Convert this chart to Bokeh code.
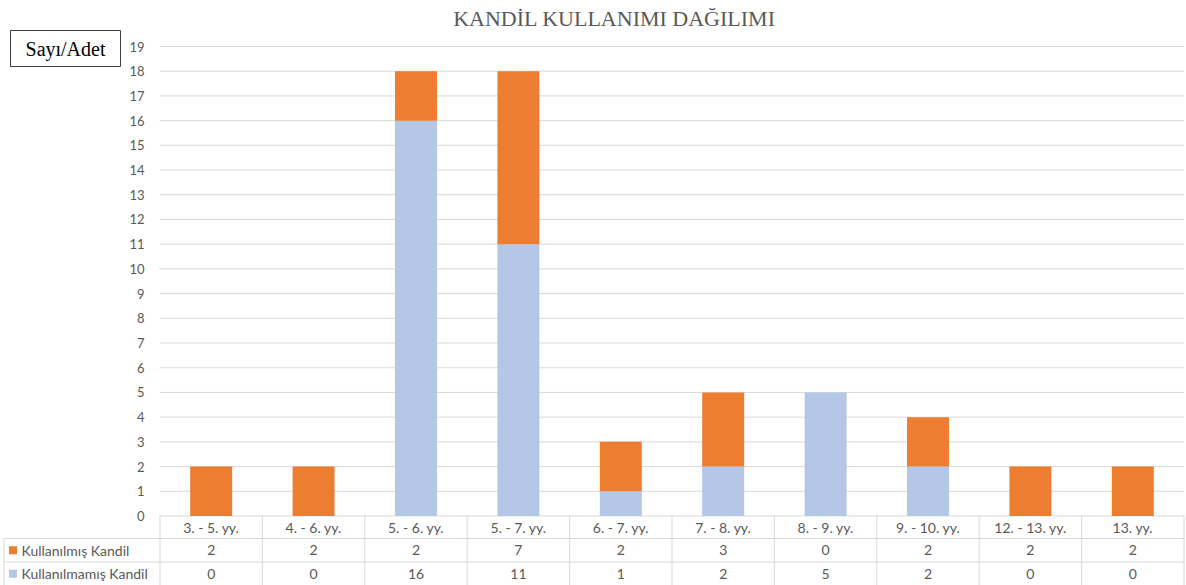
from bokeh.plotting import figure
from bokeh.models import Range1d, ColumnDataSource
from bokeh.core.properties import value
from bokeh.embed import file_html
from bokeh.resources import INLINE

categories = ["3. - 5. yy.", "4. - 6. yy.", "5. - 6. yy.", "5. - 7. yy.", "6. - 7. yy.",
              "7. - 8. yy.", "8. - 9. yy.", "9. - 10. yy.", "12. - 13. yy.", "13. yy."]
kullanilmis = [2, 2, 2, 7, 2, 3, 0, 2, 2, 2]
kullanilmamis = [0, 0, 16, 11, 1, 2, 5, 2, 0, 0]
series_names = ["Kullanılmış Kandil", "Kullanılmamış Kandil"]
y_ticks = list(range(0, 20))
title_text = "KANDİL KULLANIMI DAĞILIMI"
unit_text = "Sayı/Adet"

ORANGE = "#ED7D31"
BLUE = "#B4C7E7"
GRID = "#d9d9d9"
TXT = "#595959"
FONT = "Lato"
SERIF = "Liberation Serif"

n = len(categories)
xs = list(range(n))

# layout in figure pixels
W, H = 1186, 585
PLOT_L = 159.5        # plot area left
PLOT_R = 1183.5       # plot area right
PLOT_T = 46           # y = 19
PLOT_B = 515.5        # y = 0
ROW_LINES = [538, 561.5]
TABLE_LEFT = 3.5

ppx = (PLOT_R - PLOT_L) / n
ppy = (PLOT_B - PLOT_T) / 19.0
x0 = -0.5 - PLOT_L / ppx
x1 = x0 + W / ppx
y_top = 19 + PLOT_T / ppy
y_bot = y_top - H / ppy

def fx(px):
    return x0 + px / ppx

def fy(py):
    return y_top - py / ppy

p = figure(width=W, height=H, output_backend="svg", toolbar_location=None,
           x_range=Range1d(x0, x1), y_range=Range1d(y_bot, y_top),
           min_border=0)
p.outline_line_color = None
p.xaxis.visible = False
p.yaxis.visible = False
p.grid.grid_line_color = None

# gridlines
p.segment(x0=[-0.5] * len(y_ticks), y0=y_ticks, x1=[n - 0.5] * len(y_ticks), y1=y_ticks,
          line_color=GRID, line_width=1)
# y tick labels
p.text(x=[fx(144)] * len(y_ticks), y=y_ticks, text=[str(t) for t in y_ticks],
       text_align="right", text_baseline="middle", text_font=value(FONT),
       text_font_size="13px", text_color=TXT)

# bars
src = ColumnDataSource(dict(x=xs, used=kullanilmis, unused=kullanilmamis))
p.vbar_stack(["unused", "used"], x="x", width=0.41, fill_color=[BLUE, ORANGE],
             line_color=None, source=src)

# data table
r1 = fy(ROW_LINES[0])
r2 = fy(ROW_LINES[1])
r3 = fy(H)
left_edge = fx(TABLE_LEFT)
p.segment(x0=[left_edge, left_edge], y0=[r1, r2],
          x1=[n - 0.5] * 2, y1=[r1, r2], line_color=GRID, line_width=1)
vx = [i - 0.5 for i in range(n + 1)]
p.segment(x0=vx, y0=[0] * len(vx), x1=vx, y1=[r3] * len(vx), line_color=GRID, line_width=1)
p.segment(x0=[left_edge], y0=[r1], x1=[left_edge], y1=[r3], line_color=GRID, line_width=1)

p.text(x=xs, y=[r1 / 2] * n, text=categories, text_align="center", text_baseline="middle",
       text_font=value(FONT), text_font_size="14px", text_color=TXT)

row_a = (r1 + r2) / 2
row_b = (r2 + r3) / 2
tx, ty, tt = [], [], []
for i in range(n):
    tx += [i, i]
    ty += [row_a, row_b]
    tt += [str(kullanilmis[i]), str(kullanilmamis[i])]
p.text(x=tx, y=ty, text=tt, text_align="center", text_baseline="middle",
       text_font=value(FONT), text_font_size="14px", text_color=TXT)

p.scatter(x=[fx(12.5)] * 2, y=[row_a, row_b], marker="square", size=8,
          fill_color=[ORANGE, BLUE], line_color=None)
p.text(x=[fx(21)] * 2, y=[row_a, row_b], text=series_names,
       text_align="left", text_baseline="middle", text_font=value(FONT),
       text_font_size="14px", text_color=TXT)

# title
p.text(x=[fx(614)], y=[fy(18)], text=[title_text], text_align="center",
       text_baseline="middle", text_font=value(SERIF), text_font_size="22px",
       text_color=TXT)

# unit box
p.rect(x=[fx(65)], y=[fy(48)], width=110, height=36, width_units="screen",
       height_units="screen", fill_color="white", line_color="#404040", line_width=1)
p.text(x=[fx(65)], y=[fy(48)], text=[unit_text], text_align="center",
       text_baseline="middle", text_font=value(SERIF), text_font_size="20px",
       text_color="#000000")

open("out.html", "w").write(file_html(p, INLINE))
